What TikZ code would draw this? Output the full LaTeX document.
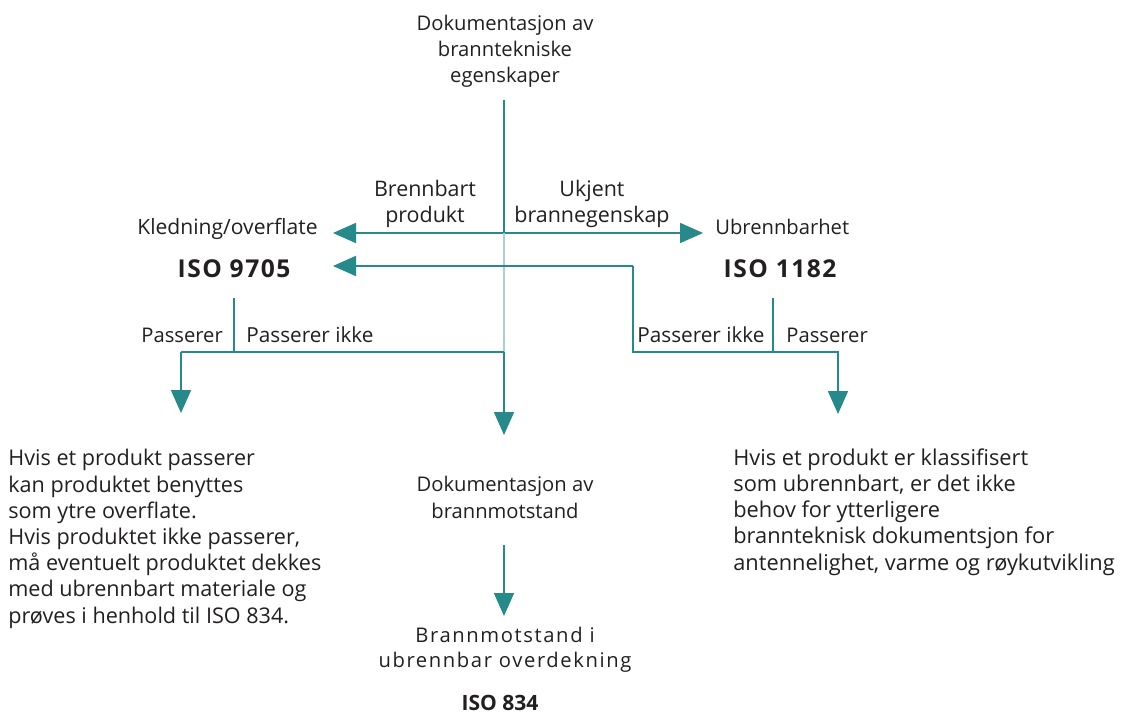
\documentclass[tikz,border=0pt]{standalone}
\usepackage{fontspec}
\setmainfont{Open Sans}
\newfontfamily\sperret[LetterSpace=8]{Open Sans}
\newfontfamily\isoskrift[LetterSpace=6]{Open Sans}
\usetikzlibrary{arrows.meta}
\definecolor{blagronn}{RGB}{38,137,138}
\definecolor{lysblagronn}{RGB}{168,210,210}
\definecolor{tekstgra}{RGB}{35,31,32}

\begin{document}
\begin{tikzpicture}[x=0.02cm, y=-0.02cm,
        tekst/.style={inner sep=0, text=tekstgra, font=\fontsize{11.5}{14.8}\selectfont},
        avsnitt/.style={tekst, align=left, anchor=base west, font=\fontsize{12.3}{14.9}\selectfont},
        iso/.style={inner sep=0, text=tekstgra, font=\fontsize{14}{16}\selectfont\isoskrift\bfseries},
        pil/.style={blagronn, line width=1pt, -{Triangle[length=0.46cm, width=0.4cm]}},
        tykk/.style={blagronn, line width=1pt},
        tynn/.style={blagronn, line width=0.6pt},
        lys/.style={lysblagronn, line width=0.8pt}]
        \useasboundingbox (0,0) rectangle (1121,715);
        % tekster (flerlinjede noder: base = siste linje)
        \node[tekst, align=center, anchor=base] (dokegen) at (505,83) {Dokumentasjon av\\branntekniske\\egenskaper};
        \node[tekst, align=center, anchor=base, font=\fontsize{12.2}{14.8}\selectfont] (brennbart) at (425,223) {Brennbart\\produkt};
        \node[tekst, align=center, anchor=base, font=\fontsize{12.2}{14.8}\selectfont] (ukjent) at (592,223) {Ukjent\\brannegenskap};
        \node[tekst, anchor=base east, font=\fontsize{12}{14}\selectfont] (kled) at (318,235) {Kledning/overflate};
        \node[tekst, anchor=base west] (ubr) at (715,235) {Ubrennbarhet};
        \node[iso, anchor=base] (iso9705) at (234,278) {ISO 9705};
        \node[iso, anchor=base] (iso1182) at (780,278) {ISO 1182};
        \node[tekst, anchor=base west] (pass1) at (141,343) {Passerer};
        \node[tekst, anchor=base west, font=\fontsize{11.8}{14}\selectfont] (passikke1) at (246,343) {Passerer ikke};
        \node[tekst, anchor=base west, font=\fontsize{11.8}{14}\selectfont] (passikke2) at (637,343) {Passerer ikke};
        \node[tekst, anchor=base west] (pass2) at (786,343) {Passerer};
        \node[avsnitt] (venstre) at (8,623) {Hvis et produkt passerer\\kan produktet benyttes\\som ytre overflate.\\Hvis produktet ikke passerer,\\må eventuelt produktet dekkes\\med ubrennbart materiale og\\prøves i henhold til ISO 834.};
        \node[avsnitt, font=\fontsize{12.4}{14.8}\selectfont] (hoyre) at (733,570) {Hvis et produkt er klassifisert\\som ubrennbart, er det ikke\\behov for ytterligere\\brannteknisk dokumentsjon for\\antennelighet, varme og røykutvikling};
        \node[tekst, align=center, anchor=base] (dokmot) at (505,518) {Dokumentasjon av\\brannmotstand};
        \node[tekst, align=center, anchor=base, font=\fontsize{11.5}{13.7}\selectfont\sperret] (motstand) at (505,667) {Brannmotstand i\\ubrennbar overdekning};
        \node[tekst, anchor=base, font=\fontsize{12}{14}\selectfont\bfseries] (iso834) at (500,710) {ISO 834};
        % punkter
        \coordinate (topp) at (504,100);
        \coordinate (kryss) at (504,233);
        \coordinate (tilkled) at (333,233);
        \coordinate (tilubr) at (703,233);
        \coordinate (til9705) at (333,266);
        \coordinate (hjorne) at (633,266);
        \coordinate (hjorne2) at (633,352);
        \coordinate (midt) at (504,352);
        \coordinate (tildok) at (504,435);
        \coordinate (vsving) at (181,352);
        \coordinate (tilvenstre) at (181,413);
        \coordinate (hsving) at (838,352);
        \coordinate (tilhoyre) at (838,414);
        \coordinate (skille1) at (234,298);
        \coordinate (skille1b) at (234,352);
        \coordinate (skille2) at (773,298);
        \coordinate (skille2b) at (773,352);
        \coordinate (motfra) at (504,545);
        \coordinate (tilmot) at (504,616);
        % linjer
        \draw[tykk] (topp) -- (kryss);
        \draw[pil] (kryss) -- (tilkled);
        \draw[pil] (kryss) -- (tilubr);
        \draw[lys] (kryss) -- (midt);
        \draw[pil] (midt) -- (tildok);
        \draw[pil] (hjorne) -- (til9705);
        \draw[tynn] (hjorne) -- (hjorne2) -- (skille2b);
        \draw[tynn] (midt) -- (vsving);
        \draw[pil] (skille2b) -| (tilhoyre);
        \draw[pil] (vsving) -- (tilvenstre);
        \draw[tynn] (skille1) -- (skille1b);
        \draw[tynn] (skille2) -- (skille2b);
        \draw[pil] (motfra) -- (tilmot);
\end{tikzpicture}
\end{document}
